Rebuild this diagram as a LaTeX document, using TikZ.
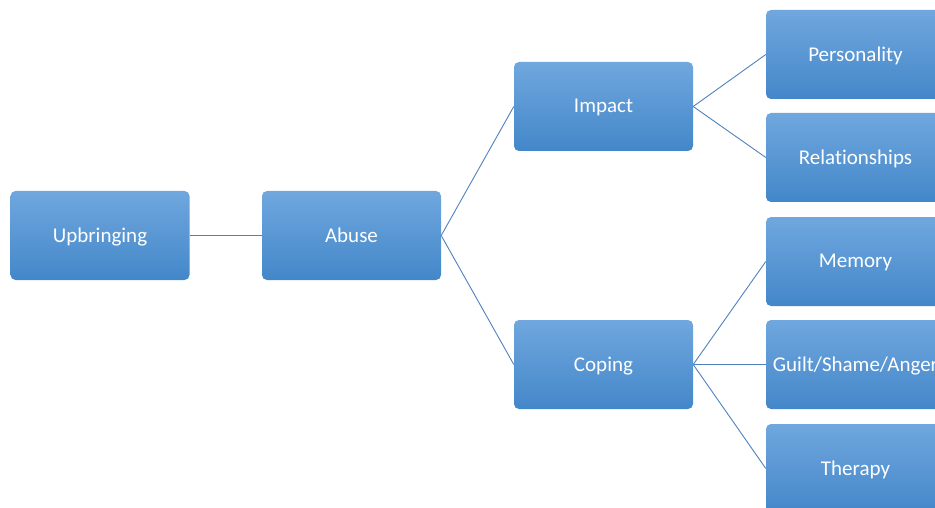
\documentclass[tikz,border=0pt]{standalone}
\usepackage{fontspec}
\setmainfont{Carlito}[Ligatures=NoCommon]
\begin{document}
\begin{tikzpicture}[x=1pt,y=-1pt,
  topic/.style={rounded corners=5pt, minimum width=179pt, minimum height=89pt,
    top color=boxtop, bottom color=boxbottom, draw=none, text=white,
    font=\fontsize{21}{23}\selectfont, inner sep=0pt, text depth=1pt},
  link/.style={draw=linkblue, line width=0.9pt}]
\definecolor{boxtop}{HTML}{70A7DE}
\definecolor{boxbottom}{HTML}{4387C9}
\definecolor{linkblue}{HTML}{4F81BD}
\useasboundingbox (0,0) rectangle (935,508);
\clip (0,0) rectangle (935,508);
% tree of topics
\node[topic] (up) at (100,235.5) {Upbringing};
\node[topic] (ab) at (351.5,235.5) {Abuse};
\node[topic] (im) at (603.5,106.5) {Impact};
\node[topic] (co) at (603.5,364.5) {Coping};
\node[topic] (pe) at (855.5,54.5) {Personality};
\node[topic] (re) at (855.5,157.5) {Relationships};
\node[topic] (me) at (855.5,261.5) {Memory};
\node[topic] (gu) at (855.5,364.5) {Guilt/Shame/Anger};
\node[topic] (th) at (855.5,468.5) {Therapy};
% connectors
\draw[link] (up.east) -- (ab.west);
\draw[link] (ab.east) -- (im.west);
\draw[link] (ab.east) -- (co.west);
\draw[link] (im.east) -- (pe.west);
\draw[link] (im.east) -- (re.west);
\draw[link] (co.east) -- (me.west);
\draw[link] (co.east) -- (gu.west);
\draw[link] (co.east) -- (th.west);
\end{tikzpicture}
\end{document}
